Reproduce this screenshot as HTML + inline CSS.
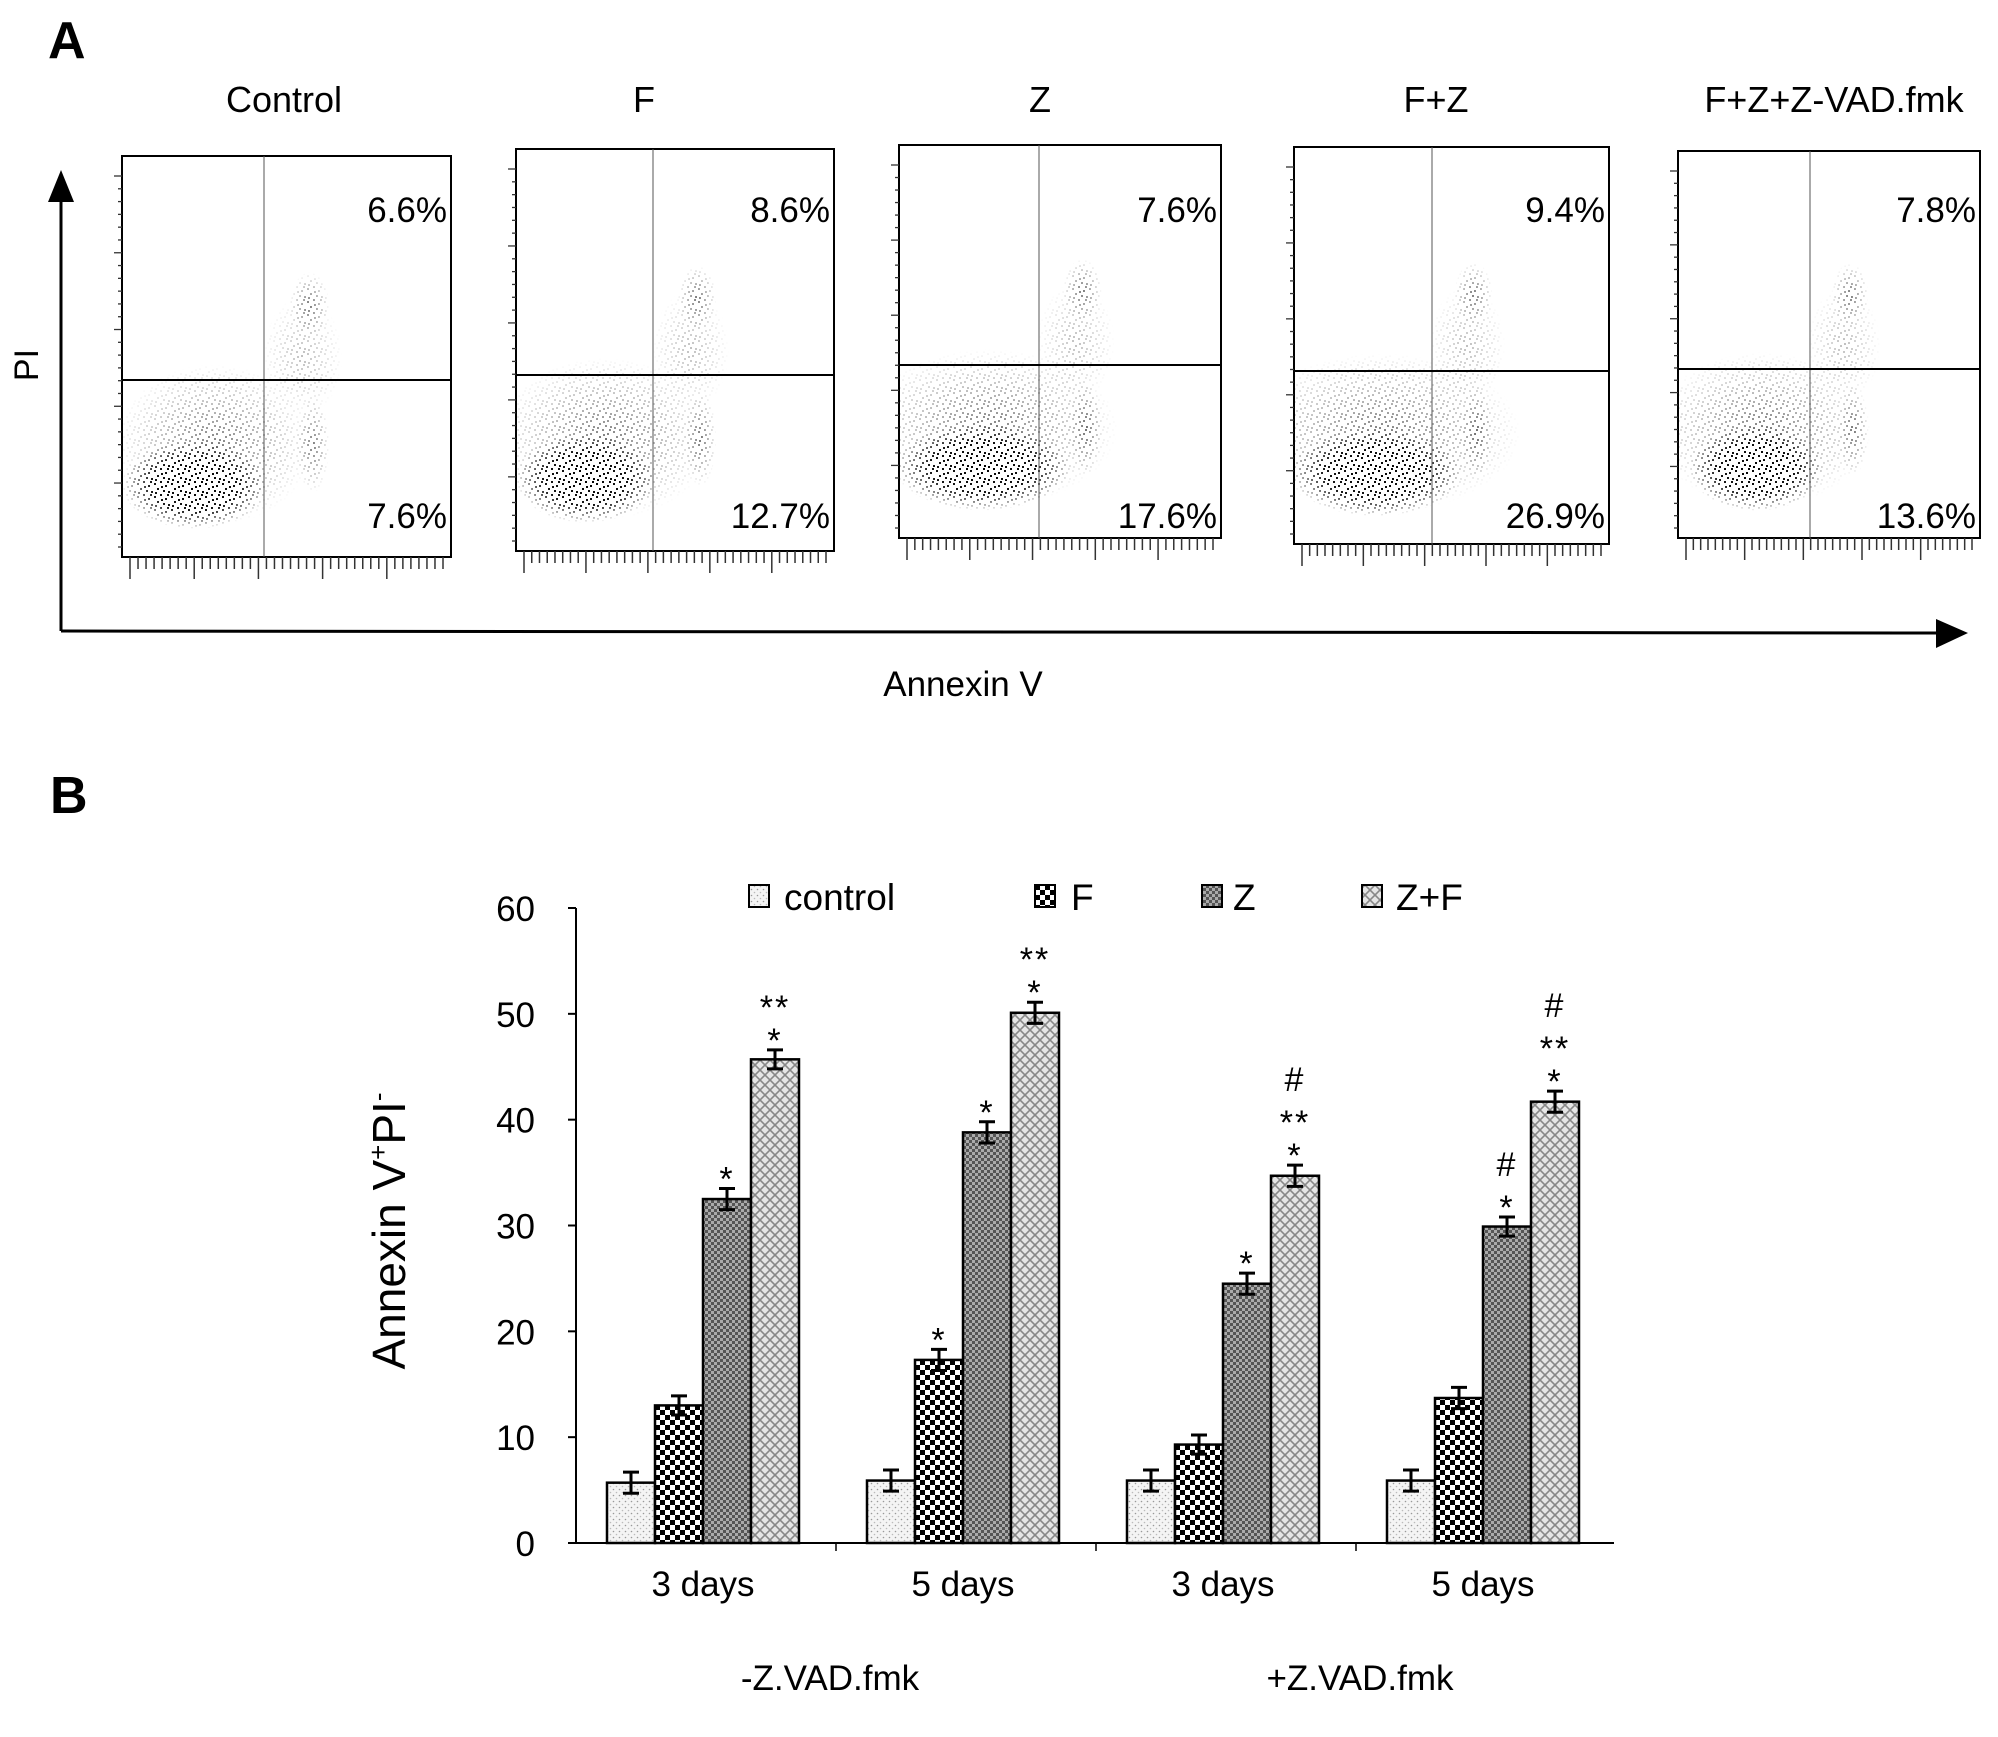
<!DOCTYPE html>
<html><head><meta charset="utf-8">
<style>
html,body{margin:0;padding:0;background:#fff;}
svg{display:block;font-family:"Liberation Sans",sans-serif;}
</style></head>
<body>
<svg id="fig" width="1998" height="1737" viewBox="0 0 1998 1737" xmlns="http://www.w3.org/2000/svg">
<defs>
  <pattern id="pCtrl" width="6" height="6" patternUnits="userSpaceOnUse"><rect width="6" height="6" fill="#f4f4f4"/><circle cx="1.5" cy="1.5" r="0.8" fill="#999"/><circle cx="4.5" cy="4.5" r="0.8" fill="#bbb"/></pattern>
  <pattern id="pF" width="10" height="10" patternUnits="userSpaceOnUse"><rect width="10" height="10" fill="#fff"/><rect width="5" height="5" fill="#000"/><rect x="5" y="5" width="5" height="5" fill="#000"/></pattern>
  <pattern id="pZ" width="6" height="6" patternUnits="userSpaceOnUse"><rect width="6" height="6" fill="#555"/><rect width="3" height="3" fill="#aaa"/><rect x="3" y="3" width="3" height="3" fill="#aaa"/></pattern>
  <pattern id="pZF" width="10" height="10" patternUnits="userSpaceOnUse"><rect width="10" height="10" fill="#e6e6e6"/><path d="M0 0L10 10M10 0L0 10" stroke="#888" stroke-width="1.6"/></pattern>
  <pattern id="pDots" width="17" height="13" patternUnits="userSpaceOnUse">
    <rect x="1" y="2" width="2" height="2" fill="#000"/><rect x="7" y="0" width="2" height="2" fill="#000"/><rect x="12" y="4" width="2" height="2" fill="#000"/>
    <rect x="4" y="7" width="2" height="2" fill="#000"/><rect x="10" y="9" width="2" height="2" fill="#000"/><rect x="15" y="10" width="2" height="2" fill="#000"/>
    <rect x="2" y="11" width="2" height="2" fill="#000"/><rect x="8" y="5" width="2" height="2" fill="#000"/><rect x="14" y="0" width="2" height="2" fill="#000"/>
  </pattern>
  <radialGradient id="gDense"><stop offset="0" stop-color="#fff" stop-opacity="1"/><stop offset="0.6" stop-color="#fff" stop-opacity="0.9"/><stop offset="1" stop-color="#fff" stop-opacity="0"/></radialGradient>
  <radialGradient id="gSparse"><stop offset="0" stop-color="#fff" stop-opacity="0.5"/><stop offset="1" stop-color="#fff" stop-opacity="0"/></radialGradient>
</defs>

<text x="48" y="58" font-size="52" font-weight="bold">A</text>
<text x="50" y="813" font-size="52" font-weight="bold">B</text>

<g id="flow"></g>

<line x1="61" y1="195" x2="61" y2="631" stroke="#000" stroke-width="3"/>
<polygon points="61,170 48,202 74,202" fill="#000"/>
<line x1="61" y1="631" x2="1940" y2="633" stroke="#000" stroke-width="3"/>
<polygon points="1968,633 1936,619 1936,648" fill="#000"/>
<text x="0" y="0" font-size="34" transform="translate(38,365) rotate(-90)" text-anchor="middle">PI</text>
<text x="963" y="696" font-size="35" text-anchor="middle">Annexin V</text>

<g id="chart"></g>

<script>
var panelTitles = ["Control","F","Z","F+Z","F+Z+Z-VAD.fmk"];
var upperPct = ["6.6%","8.6%","7.6%","9.4%","7.8%"];
var lowerPct = ["7.6%","12.7%","17.6%","26.9%","13.6%"];
var ns="http://www.w3.org/2000/svg";
function mk(tag,attrs,parent){var e=document.createElementNS(ns,tag);for(var k in attrs)e.setAttribute(k,attrs[k]);parent.appendChild(e);return e;}
var frames=[[122,156,451,557,264,380],[516,149,834,551,653,375],[899,145,1221,538,1039,365],[1294,147,1609,544,1432,371],[1678,151,1980,538,1810,369]];
var titleX=[284,644,1040,1436,1834];
var flow=document.getElementById('flow');
var defs=document.querySelector('defs');
for(var i=0;i<5;i++){
  var f=frames[i],w=f[2]-f[0],h=f[3]-f[1];
  var g=mk('g',{},flow);
  
  
  var t=mk('text',{x:titleX[i],y:112,'font-size':36,'text-anchor':'middle'},g);t.textContent=panelTitles[i];
  
  
  var m=mk('mask',{id:'m'+i,maskUnits:'userSpaceOnUse',x:0,y:0,width:1998,height:1737},defs);
  var spread=[0.30,0.34,0.40,0.44,0.36][i];
  mk('ellipse',{cx:f[0]+w*0.28,cy:f[1]+h*0.72,rx:w*spread,ry:h*0.2,fill:'url(#gSparse)'},m);
  mk('ellipse',{cx:f[0]+w*(0.22+0.04*(i>=2?1:0)),cy:f[1]+h*0.82,rx:w*(0.22+0.05*(i==2||i==3?1:0)),ry:h*0.11,fill:'url(#gDense)'},m);
  mk('ellipse',{cx:f[0]+w*0.58,cy:f[1]+h*0.72,rx:w*0.05,ry:h*0.12,fill:'url(#gSparse)'},m);
  mk('ellipse',{cx:f[0]+w*0.57,cy:f[1]+h*0.37,rx:w*0.06,ry:h*0.08,fill:'url(#gSparse)'},m);
  mk('ellipse',{cx:f[0]+w*0.55,cy:f[1]+h*0.5,rx:w*0.12,ry:h*0.15,fill:'url(#gSparse)','fill-opacity':0.5},m);
  var sc=mk('rect',{x:f[0],y:f[1],width:w,height:h,fill:'url(#pDots)',mask:'url(#m'+i+')'},g);
  
  
  mk('rect',{x:f[0],y:f[1],width:w,height:h,fill:'none',stroke:'#000','stroke-width':2},g);
  mk('line',{x1:f[4],y1:f[1],x2:f[4],y2:f[3],stroke:'#555','stroke-width':1},g);
  mk('line',{x1:f[0],y1:f[5],x2:f[2],y2:f[5],stroke:'#000','stroke-width':2},g);
  for(var k=0;k<40;k++){var tx=f[0]+8+k*(w-16)/39;mk('line',{x1:tx,y1:f[3],x2:tx,y2:f[3]+(k%8==0?22:12),stroke:'#333','stroke-width':1.5},g);}
  for(var k=0;k<30;k++){var ty=f[1]+20+k*(h-30)/29;mk('line',{x1:f[0],y1:ty,x2:f[0]-(k%6==0?8:4),y2:ty,stroke:'#333','stroke-width':1.3},g);}
  var u=mk('text',{x:f[2]-4,y:222,'font-size':35,'text-anchor':'end'},g);u.textContent=upperPct[i];
  
  
  var l=mk('text',{x:f[2]-4,y:528,'font-size':35,'text-anchor':'end'},g);l.textContent=lowerPct[i];
  
  
}

var groups = ["3 days","5 days","3 days","5 days"];
var seriesNames = ["control","F","Z","Z+F"];
var controlVals = [5.7, 5.9, 5.9, 5.9];
var fVals = [13.0, 17.3, 9.3, 13.7];
var zVals = [32.5, 38.8, 24.5, 29.9];
var zfVals = [45.7, 50.1, 34.7, 41.7];
var controlErr = [1.0, 1.0, 1.0, 1.0];
var fErr = [0.9, 1.0, 0.9, 1.0];
var zErr = [1.0, 1.0, 1.0, 0.9];
var zfErr = [0.9, 1.0, 1.0, 1.0];
var controlMarks = ["","","",""];
var fMarks = ["","*","",""];
var zMarks = ["*","*","*","#|*"];
var zfMarks = ["**|*","**|*","#|**|*","#|**|*"];
var yTicks = [0,10,20,30,40,50,60];

var chart=document.getElementById('chart');
var X0=576,Y0=1543,YTOP=908,BAND=260,BW=48,OFF=31;
function ys(v){return Y0-(v/60)*(Y0-YTOP);}
function xs(gi,si){return X0+gi*BAND+OFF+si*BW;}
mk('line',{x1:X0,y1:YTOP,x2:X0,y2:Y0,stroke:'#000','stroke-width':2},chart);
mk('line',{x1:X0,y1:Y0,x2:1614,y2:Y0,stroke:'#000','stroke-width':2},chart);
yTicks.forEach(function(v){
  mk('line',{x1:X0-8,y1:ys(v),x2:X0,y2:ys(v),stroke:'#000','stroke-width':2},chart);
  var t=mk('text',{x:535,y:ys(v)+13,'font-size':35,'text-anchor':'end'},chart);t.textContent=v;
  
  
});
for(var gi=1;gi<4;gi++)mk('line',{x1:X0+gi*BAND,y1:Y0,x2:X0+gi*BAND,y2:Y0+8,stroke:'#000','stroke-width':1.5},chart);
var series=[[controlVals,controlErr,controlMarks,'url(#pCtrl)'],[fVals,fErr,fMarks,'url(#pF)'],[zVals,zErr,zMarks,'url(#pZ)'],[zfVals,zfErr,zfMarks,'url(#pZF)']];
groups.forEach(function(gname,gi){
  var t=mk('text',{x:X0+gi*BAND+OFF+2*BW,y:1596,'font-size':35,'text-anchor':'middle'},chart);t.textContent=gname;
  
  
  series.forEach(function(s,si){
    var v=s[0][gi],e=s[1][gi],x=xs(gi,si);
    var r=mk('rect',{x:x,y:ys(v),width:BW,height:Y0-ys(v),fill:s[3],stroke:'#000','stroke-width':2.5},chart);
    
    
    var cx=x+BW/2;
    mk('path',{d:'M'+cx+' '+ys(v+e)+'V'+ys(v-e)+'M'+(cx-8)+' '+ys(v+e)+'H'+(cx+8)+'M'+(cx-8)+' '+ys(v-e)+'H'+(cx+8),stroke:'#000','stroke-width':3,fill:'none'},chart);
    var lines=s[2][gi]?s[2][gi].split('|'):[];
    var base=ys(v+e)-8;
    for(var li=lines.length-1,row=0;li>=0;li--,row++){
      var a=mk('text',{x:cx,y:base-row*33+(lines[li]=='#'?0:10),'font-size':34,'text-anchor':'middle','letter-spacing':2},chart);a.textContent=lines[li];
      
      
    }
  });
});
var tt=mk('text',{x:830,y:1690,'font-size':35,'text-anchor':'middle'},chart);tt.textContent='-Z.VAD.fmk';


var tt2=mk('text',{x:1360,y:1690,'font-size':35,'text-anchor':'middle'},chart);tt2.textContent='+Z.VAD.fmk';


var yt=mk('text',{'font-size':46,'text-anchor':'middle',transform:'translate(405,1231) rotate(-90)'},chart);


var parts=[['Annexin V',46,0],['+',26,-18],['PI',46,18],['-',26,-18]];
parts.forEach(function(p){var ts=mk('tspan',{'font-size':p[1],dy:p[2]},yt);ts.textContent=p[0];});
var legBox=[749,1035,1202,1362], legTxt=[784,1071,1233,1396];
seriesNames.forEach(function(n,si){
  var g=mk('g',{},chart);
  
  
  mk('rect',{x:legBox[si],y:885,width:20,height:22,fill:series[si][3],stroke:'#000','stroke-width':2},g);
  var t=mk('text',{x:legTxt[si],y:910,'font-size':37},g);t.textContent=n;
});
</script>
</svg>
</body></html>
